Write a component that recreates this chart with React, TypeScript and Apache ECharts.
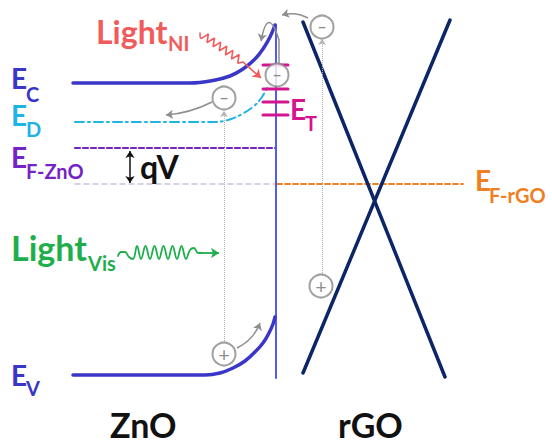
import React, { useEffect, useRef } from "react";
import * as echarts from "echarts";

// ---- Band diagram data (x = position, y = energy drawn downward, in image units) ----
const ecBand = [[73, 83], [190, 83], [213, 80.5], [230, 76], [243, 69], [255, 59], [263, 49], [270, 37], [275, 25]];
const evBand = [[73, 375], [205, 375], [220, 373], [233, 368], [245, 361], [255, 352], [263, 343], [269, 333], [273, 324], [275, 317]];
const edLevel = [[75, 122], [212, 122], [228, 120], [242, 114], [254, 106], [262, 97], [267, 88]];
const efZnO = [[75, 148], [276, 148]];
const efEquil = [[75, 184], [276, 184]];
const efRGO = [[277, 184], [463, 184]];
const interfaceLine = [[276, 25], [276, 378]];
const coneA = [[303, 22], [445, 377]];
const coneB = [[450, 20], [303, 373]];
const trapLevels = [65, 89, 102, 115];
const trapSpan = [263, 288];
const electrons = [[277, 75], [224, 98], [322, 27]];
const holes = [[224, 354], [321, 286]];
const transitions = [[[224, 343], [224, 111]], [[322, 275], [322, 39]]];
const carrierMoves = [
  { coords: [[212, 102], [166, 115]], curve: 0.1 },
  { coords: [[308, 18], [282, 15]], curve: -0.2 },
  { coords: [[237, 348], [260, 323]], curve: -0.2 },
  { coords: [[279, 40], [261, 41]], curve: -2 },
];
const hookStem = [[279, 63], [279, 40]];
const waveNI = [[200, 33], [200.8, 38.4], [208.4, 33.8], [207.0, 42.5], [214.5, 38.0], [213.1, 46.7], [220.7, 42.1], [219.3, 50.8], [226.8, 46.2], [225.4, 55.0], [232.9, 50.4], [231.5, 59.1], [239.1, 54.5], [237.7, 63.2], [243, 62]];
const tailNI = [[243, 62], [261, 78]];
const waveVis = [[118, 256], [121, 252], [125, 252], [129, 257], [133, 259], [137, 246], [141, 259], [145.5, 246], [150, 259], [154.5, 246], [159, 259], [163.5, 246], [168, 259], [172.5, 246], [177, 259], [181.5, 246], [186, 259], [190, 250], [194, 248], [198, 253], [202, 253]];
const tailVis = [[202, 253], [219, 253]];
const qvArrow = [[130, 151], [130, 183]];

// ---- Text labels: [text, x, y, size, colorKey] ----
const labels: [string, number, number, number, string][] = [
  ["E", 11, 78, 28, "band"], ["C", 26, 94, 20, "band"],
  ["E", 11, 115, 28, "donor"], ["D", 26, 129, 20, "donor"],
  ["E", 11, 157, 28, "fermi"], ["F-ZnO", 26, 171, 20, "fermi"],
  ["E", 11, 375, 28, "band"], ["V", 26, 388, 20, "band"],
  ["E", 290, 109, 28, "trap"], ["T", 305, 123, 20, "trap"],
  ["E", 475, 180, 28, "rgo"], ["F-rGO", 489, 195, 20, "rgo"],
  ["Light", 96, 31, 32, "ni"], ["NI", 168, 43, 20, "ni"],
  ["Light", 11, 247, 34, "vis"], ["Vis", 88, 263, 20, "vis"],
  ["qV", 140, 166, 32, "ink"],
  ["ZnO", 110, 424, 34, "ink"], ["rGO", 338, 424, 34, "ink"],
];

const C = {
  band: "#3a36c8",
  iface: "#4f5df0",
  donor: "#1fb4e4",
  fermi: "#7424c4",
  equil: "#cbc4e2",
  rgo: "#ef7f22",
  cone: "#0c2567",
  trap: "#d5148f",
  gray: "#8e8e8e",
  dot: "#b3b3b3",
  ni: "#f25b5b",
  vis: "#1fae4c",
  ink: "#111111",
};

const FONT = 'Lato, "Open Sans", sans-serif';

function line(data: number[][], color: string, width: number, type: any = "solid", smooth: any = false, z = 2) {
  return {
    type: "line",
    data,
    smooth,
    symbol: "none",
    showSymbol: false,
    silent: true,
    z,
    lineStyle: { color, width, type, cap: "round" },
  };
}

function arrows(data: any[], color: string, width: number, type: any = "solid", both = false, size = 7) {
  return {
    type: "lines",
    coordinateSystem: "cartesian2d",
    silent: true,
    z: 3,
    symbol: both ? ["arrow", "arrow"] : ["none", "arrow"],
    symbolSize: size,
    data: data.map((d) => ({ coords: d.coords, lineStyle: { curveness: d.curve || 0 } })),
    lineStyle: { color, width, type, opacity: 1 },
  };
}

export default function App() {
  const ref = useRef<HTMLDivElement>(null);
  useEffect(() => {
    if (!ref.current) return;
    const chart = echarts.init(ref.current, undefined, { renderer: "svg" });
    const series: any[] = [
      line(efEquil, C.equil, 1.5, [5, 4]),
      line(efRGO, C.rgo, 1.8, [5, 3]),
      line(efZnO, C.fermi, 2.2, [5, 3]),
      line(edLevel, C.donor, 2, [9, 4, 2, 4], 0.4),
      line(interfaceLine, C.iface, 2),
      line(ecBand, C.band, 3.5, "solid", 0.4),
      line(evBand, C.band, 3.5, "solid", 0.4),
      line(coneA, C.cone, 3.5),
      line(coneB, C.cone, 3.5),
      ...trapLevels.map((y) => line([[trapSpan[0], y], [trapSpan[1], y]], C.trap, 3, "solid", false, 3)),
      arrows(transitions.map((c) => ({ coords: c })), C.dot, 1, "dotted", false, 6),
      line(hookStem, C.gray, 1.5),
      arrows(carrierMoves, C.gray, 1.5),
      line(waveNI, C.ni, 1.6, "solid", 0.5),
      arrows([{ coords: tailNI }], C.ni, 1.6, "solid", false, 8),
      line(waveVis, C.vis, 1.8, "solid", 0.4),
      arrows([{ coords: tailVis }], C.vis, 1.8, "solid", false, 8),
      arrows([{ coords: qvArrow }], C.ink, 1.5, "solid", true, 7),
      {
        type: "scatter",
        data: electrons,
        symbol: "circle",
        symbolSize: 23,
        silent: true,
        z: 5,
        itemStyle: { color: "#ffffff", borderColor: "#8a8a8a", borderWidth: 2 },
        label: { show: true, position: "inside", formatter: "\u2212", color: "#707070", fontSize: 15, fontWeight: "bold", fontFamily: FONT },
      },
      {
        type: "scatter",
        data: holes,
        symbol: "circle",
        symbolSize: 23,
        silent: true,
        z: 5,
        itemStyle: { color: "#ffffff", borderColor: "#8a8a8a", borderWidth: 2 },
        label: { show: true, position: "inside", formatter: "+", color: "#707070", fontSize: 20, fontFamily: FONT },
      },
    ];
    const graphic = labels.map(([text, x, y, size, key]) => ({
      type: "text",
      x,
      y,
      silent: true,
      z: 10,
      style: {
        text,
        fill: (C as any)[key],
        font: `bold ${size}px ${FONT}`,
        align: "left",
        verticalAlign: "middle",
        textAlign: "left",
        textVerticalAlign: "middle",
      },
    }));
    chart.setOption({
      animation: false,
      backgroundColor: "#ffffff",
      grid: { left: 0, right: 0, top: 0, bottom: 0 },
      xAxis: { type: "value", min: 0, max: 552, show: false },
      yAxis: { type: "value", min: 0, max: 445, inverse: true, show: false },
      series,
      graphic,
    });
    return () => chart.dispose();
  }, []);
  return <div ref={ref} style={{ position: "fixed", left: 0, top: 0, width: 552, height: 445 }} />;
}
